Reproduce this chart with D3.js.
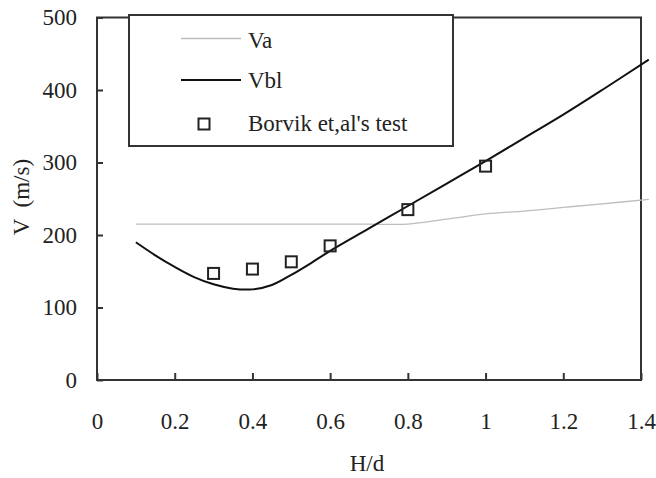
<!DOCTYPE html>
<html>
<head>
<meta charset="utf-8">
<script src="https://cdn.jsdelivr.net/npm/d3@7"></script>
<style>
  html, body { margin: 0; padding: 0; background: #fff; }
  svg { display: block; }
  text { font-family: "Liberation Serif", "Times New Roman", serif; fill: #222; }
</style>
</head>
<body>
<svg id="chart" width="656" height="478"></svg>
<script>
// Ballistic limit velocity vs. relative nose length H/d
const vaH   = [0.1, 0.2, 0.3, 0.4, 0.5, 0.6, 0.7, 0.8, 0.9, 1.0, 1.1, 1.2, 1.3, 1.42];
const vaV   = [215, 215, 215, 215, 215, 215, 215, 215, 222, 229, 233, 238, 243, 249];

const vblH  = [0.1, 0.15, 0.2, 0.25, 0.3, 0.35, 0.4, 0.45, 0.5, 0.55, 0.6, 0.7, 0.8, 0.9, 1.0, 1.1, 1.2, 1.3, 1.42];
const vblV  = [190, 172, 156, 142, 132, 126, 125, 131, 145, 161, 178, 209, 240, 271, 302, 334, 366, 400, 442];

const testH = [0.3, 0.4, 0.5, 0.6, 0.8, 1.0];
const testV = [147, 153, 163, 185, 235, 295];

const xTicks      = [0, 0.2, 0.4, 0.6, 0.8, 1.0, 1.2, 1.4];
const xTickLabels = ["0", "0.2", "0.4", "0.6", "0.8", "1", "1.2", "1.4"];
const yTicks      = [0, 100, 200, 300, 400, 500];
const yTickLabels = ["0", "100", "200", "300", "400", "500"];

const legendNames = ["Va", "Vbl", "Borvik et,al's test"];

const svg = d3.select("#chart");
const plot = { left: 97, right: 641, top: 17.5, bottom: 380 };

const x = d3.scaleLinear().domain([0, 1.4]).range([plot.left, plot.right]);
const y = d3.scaleLinear().domain([0, 500]).range([plot.bottom, plot.top]);

const fontSize = 23;

// Y axis: inward ticks, labels to the left
const yAxis = d3.axisLeft(y)
  .tickValues(yTicks)
  .tickFormat((d, i) => yTickLabels[i])
  .tickSizeInner(-6).tickSizeOuter(0).tickPadding(20);
const gy = svg.append("g").attr("transform", `translate(${plot.left},0)`).call(yAxis);
gy.select(".domain").remove();
gy.selectAll(".tick line").attr("stroke", "#333").attr("stroke-width", 2);
gy.selectAll(".tick text").attr("font-size", fontSize).style("font-family", "Liberation Serif").attr("fill", "#222");

// X axis: inward ticks, labels set well below
const xAxis = d3.axisBottom(x)
  .tickValues(xTicks)
  .tickFormat((d, i) => xTickLabels[i])
  .tickSizeInner(-7).tickSizeOuter(0).tickPadding(33);
const gx = svg.append("g").attr("transform", `translate(0,${plot.bottom})`).call(xAxis);
gx.select(".domain").remove();
gx.selectAll(".tick line").attr("stroke", "#333").attr("stroke-width", 2);
gx.selectAll(".tick text").attr("font-size", fontSize).style("font-family", "Liberation Serif").attr("fill", "#222");

// Plot frame
svg.append("rect")
  .attr("x", plot.left).attr("y", plot.top)
  .attr("width", plot.right - plot.left).attr("height", plot.bottom - plot.top)
  .attr("fill", "none").attr("stroke", "#333").attr("stroke-width", 2);

// Axis titles
svg.append("text")
  .attr("x", 367).attr("y", 471)
  .attr("text-anchor", "middle").attr("font-size", fontSize)
  .text("H/d");
svg.append("text")
  .attr("transform", "translate(29,197) rotate(-90)")
  .attr("text-anchor", "middle").attr("font-size", fontSize)
  .style("white-space", "pre")
  .text("V  (m/s)");

// Curves
const line = d3.line().curve(d3.curveCatmullRom.alpha(0.5));

svg.append("path")
  .attr("d", line(vaH.map((h, i) => [x(h), y(vaV[i])])))
  .attr("fill", "none").attr("stroke", "#bdbdbd").attr("stroke-width", 1.3);

svg.append("path")
  .attr("d", line(vblH.map((h, i) => [x(h), y(vblV[i])])))
  .attr("fill", "none").attr("stroke", "#111").attr("stroke-width", 2);

// Test points
const sq = 11;
svg.append("g").selectAll("rect")
  .data(testH.map((h, i) => ({ h, v: testV[i] })))
  .join("rect")
  .attr("x", d => x(d.h) - sq / 2).attr("y", d => y(d.v) - sq / 2)
  .attr("width", sq).attr("height", sq)
  .attr("fill", "none").attr("stroke", "#222").attr("stroke-width", 2);

// Legend
const lg = svg.append("g");
lg.append("rect")
  .attr("x", 129).attr("y", 15).attr("width", 324).attr("height", 131)
  .attr("fill", "#fff").attr("stroke", "#333").attr("stroke-width", 2);

const rows = [38.5, 80, 124];
lg.append("line").attr("x1", 181).attr("x2", 241).attr("y1", rows[0]).attr("y2", rows[0])
  .attr("stroke", "#bdbdbd").attr("stroke-width", 1.3);
lg.append("line").attr("x1", 181).attr("x2", 241).attr("y1", rows[1]).attr("y2", rows[1])
  .attr("stroke", "#111").attr("stroke-width", 2);
lg.append("rect").attr("x", 204 - sq / 2).attr("y", rows[2] - sq / 2).attr("width", sq).attr("height", sq)
  .attr("fill", "none").attr("stroke", "#222").attr("stroke-width", 2);

const textBase = [48, 88, 131];
lg.selectAll("text.leg")
  .data(legendNames)
  .join("text")
  .attr("class", "leg")
  .attr("x", 248).attr("y", (d, i) => textBase[i])
  .attr("font-size", fontSize)
  .text(d => d);
</script>
</body>
</html>
